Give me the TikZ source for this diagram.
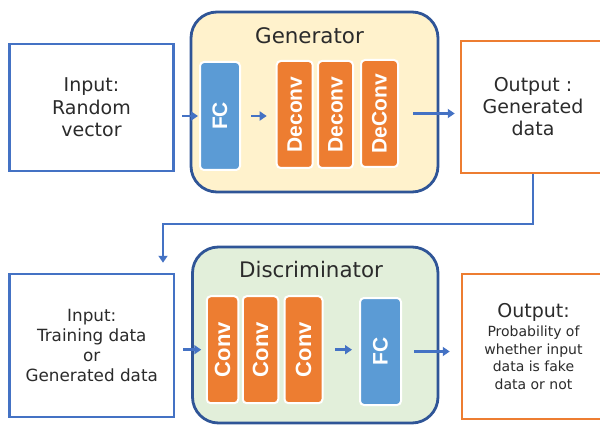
\documentclass[tikz,border=0pt]{standalone}
\usepackage{fontspec}
\setmainfont{DejaVu Sans}
\newfontfamily\blockfont{Liberation Sans}
\usetikzlibrary{arrows.meta}
\definecolor{bblue}{HTML}{4472C4}
\definecolor{dblue}{HTML}{2F5597}
\definecolor{borange}{HTML}{ED7D31}
\definecolor{lblue}{HTML}{5B9BD5}
\definecolor{lyellow}{HTML}{FFF2CC}
\definecolor{lgreen}{HTML}{E2EFDA}
\definecolor{txt}{HTML}{2B2B2B}
\tikzset{
  iobox/.style={draw, line width=2.5pt, fill=white, text=txt, align=center, inner sep=0pt},
  container/.style={draw=dblue, line width=2.8pt, rounded corners=26pt, inner sep=0pt},
  blk/.style={draw=white, line width=2pt, rounded corners=4pt, inner sep=0pt},
  blklabel/.style={rotate=90, text=white, font=\blockfont\bfseries, inner sep=0pt},
  title/.style={text=txt, anchor=base, inner sep=0pt, font=\fontsize{21.4}{24}\selectfont},
  arr/.style={draw=bblue, line width=2.6pt, -{Triangle[length=7pt,width=9pt]}}
}
\begin{document}
\begin{tikzpicture}[x=1pt,y=-1pt]
\useasboundingbox (0,0) rectangle (600,425);

% ---------- Generator row ----------
\node[iobox, draw=bblue, minimum width=164, minimum height=127,
      font=\fontsize{19}{22.5}\selectfont] (in1) at (91.5,107.5) {Input:\\Random\\vector};
\node[container, fill=lyellow, minimum width=247, minimum height=180] (gen) at (314.5,102) {};
\node[title] (gent) at (309.5,43.3) {Generator};
\node[blk, fill=lblue, minimum width=40, minimum height=108] (fc1) at (220,116) {};
\node[blklabel, font=\blockfont\bfseries\fontsize{21}{24}\selectfont] (fc1l) at (fc1) {FC};
\node[blk, fill=borange, minimum width=36, minimum height=107] (dc1) at (294.7,114.5) {};
\node[blk, fill=borange, minimum width=35, minimum height=107] (dc2) at (335.5,114.5) {};
\node[blk, fill=borange, minimum width=37, minimum height=107] (dc3) at (379.5,113.5) {};
\node[blklabel, font=\blockfont\bfseries\fontsize{21}{24}\selectfont] (dc1l) at (dc1) {Deconv};
\node[blklabel, font=\blockfont\bfseries\fontsize{21}{24}\selectfont] (dc2l) at (dc2) {Deconv};
\node[blklabel, font=\blockfont\bfseries\fontsize{21}{24}\selectfont] (dc3l) at (dc3) {DeConv};
\node[iobox, draw=borange, minimum width=144, minimum height=132,
      font=\fontsize{19}{22}\selectfont] (out1) at (533,107) {Output :\\Generated\\data};

\draw[arr, shorten <=7.5pt, shorten >=1pt] (in1.east |- fc1.west) -- (fc1.west);
\draw[arr, shorten <=10pt, shorten >=9pt] (fc1.east) -- (fc1.east -| dc1.west);
\draw[arr, shorten <=14pt, shorten >=5pt] (dc3.east) -- (dc3.east -| out1.west);

% ---------- link ----------
\coordinate (turn) at (163,224);

% ---------- Discriminator row ----------
\node[iobox, draw=bblue, minimum width=164.5, minimum height=143,
      font=\fontsize{16.8}{20.3}\selectfont] (in2) at (91.75,345.5) {Input:\\Training data\\or\\Generated data};
\node[container, fill=lgreen, minimum width=245.5, minimum height=176] (dis) at (315.25,335) {};
\node[title] (dist) at (311,277.7) {Discriminator};
\node[blk, fill=borange, minimum width=31.5, minimum height=107] (c1) at (222.5,349.7) {};
\node[blk, fill=borange, minimum width=35.5, minimum height=107] (c2) at (260.5,349.7) {};
\node[blk, fill=borange, minimum width=38, minimum height=107] (c3) at (303.5,349.7) {};
\node[blklabel, font=\blockfont\bfseries\fontsize{22}{24}\selectfont] (c1l) at (c1) {Conv};
\node[blklabel, font=\blockfont\bfseries\fontsize{22}{24}\selectfont] (c2l) at (c2) {Conv};
\node[blklabel, font=\blockfont\bfseries\fontsize{22}{24}\selectfont] (c3l) at (c3) {Conv};
\node[blk, fill=lblue, minimum width=41, minimum height=107] (fc2) at (380.5,351.5) {};
\node[blklabel, font=\blockfont\bfseries\fontsize{21}{24}\selectfont] (fc2l) at (fc2) {FC};
\node[iobox, draw=borange, minimum width=143, minimum height=145,
      font=\fontsize{14}{17.5}\selectfont] (out2) at (533.5,346.5)
      {{\fontsize{19}{22}\selectfont Output:}\\[2pt]Probability of\\whether input\\data is fake\\data or not};

\draw[arr, shorten >=10pt] (out1.south) |- (turn) -- (turn |- in2.north);
\draw[arr, shorten <=8pt, shorten >=4.5pt] (in2.east |- c1.west) -- (c1.west);
\draw[arr, shorten <=11.5pt, shorten >=7pt] (c3.east) -- (c3.east -| fc2.west);
\draw[arr, shorten <=12pt, shorten >=11pt] (fc2.east) -- (fc2.east -| out2.west);
\end{tikzpicture}
\end{document}
